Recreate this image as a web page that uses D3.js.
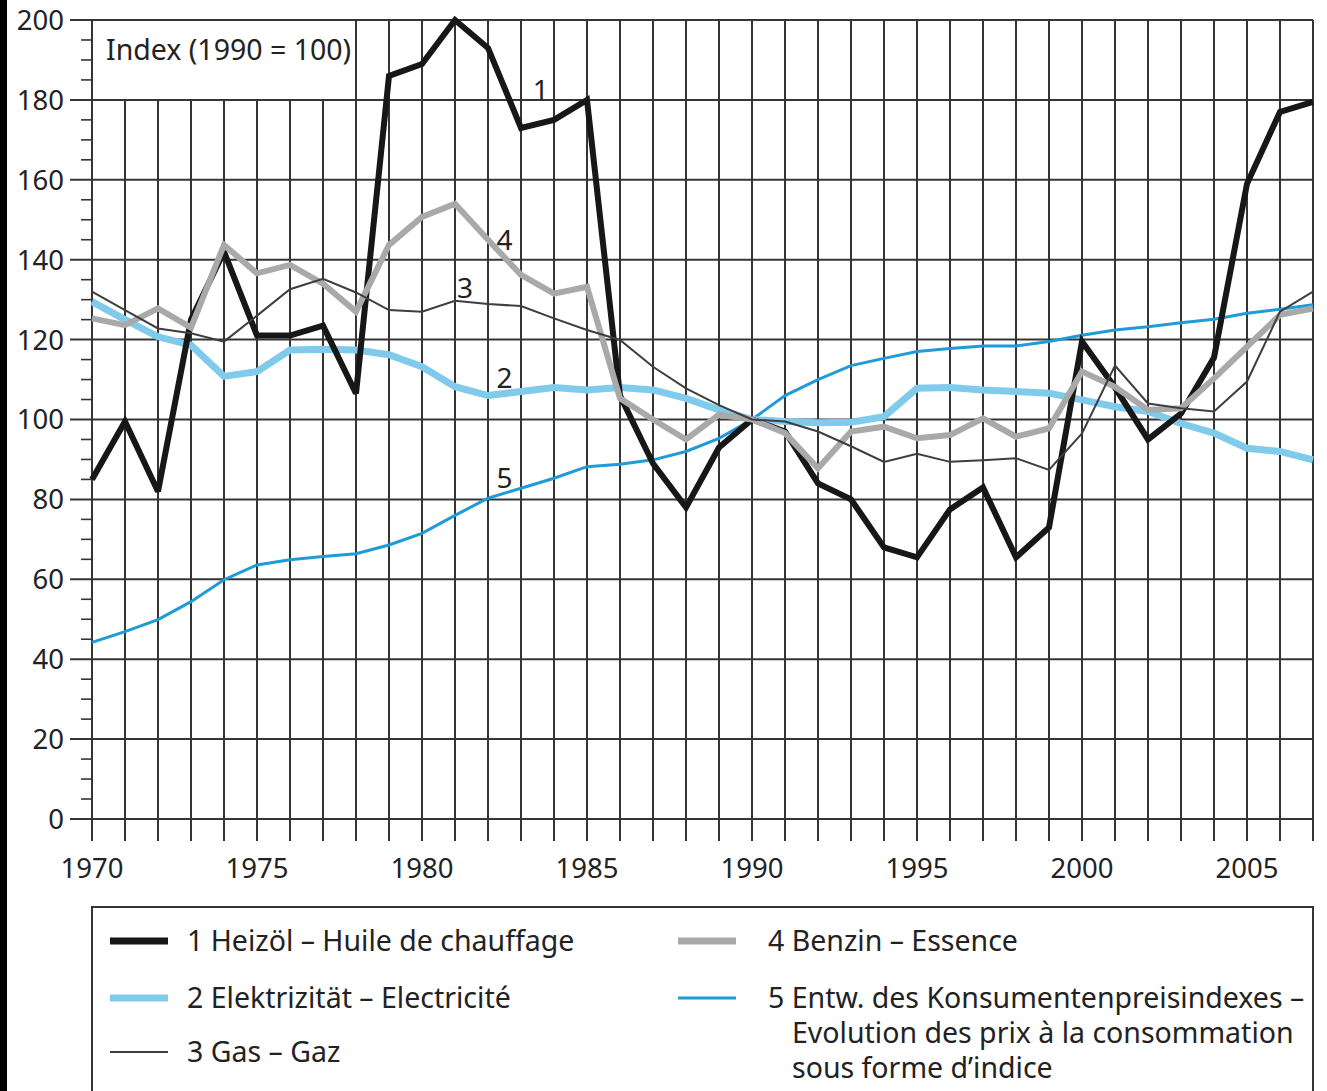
<!DOCTYPE html>
<html>
<head>
<meta charset="utf-8">
<script src="https://cdn.jsdelivr.net/npm/d3@7"></script>
<style>
  html, body { margin: 0; padding: 0; background: #fff; }
  svg { display: block; font-family: "Noto Sans", "Open Sans", sans-serif; }
</style>
</head>
<body>
<svg id="chart" width="1327" height="1091"></svg>
<script>
// ---- data ----
const years = d3.range(1970, 2008);
const heizoel = [85, 99.5, 82, 125, 142, 121, 121, 123.5, 106.5, 186, 189, 200, 193, 173, 175, 180,
  106, 89, 78, 93, 100, 97, 84, 80, 68, 65.5, 77.5, 83, 65.5, 73, 119.5, 108, 95, 101.5, 115.5, 159, 177, 179.5];
const elektrizitaet = [129.5, 125, 120.7, 118.6, 110.8, 112, 117.4, 117.6, 117.4, 116.2, 113.2, 108.2, 106, 107, 108, 107.4,
  108, 107.4, 105.3, 102.4, 100, 99.5, 99.2, 99.3, 100.7, 107.8, 108, 107.4, 107, 106.6, 104.9, 103.2, 102, 99, 96.6, 92.8, 92, 89.9];
const gas = [132, 127.4, 122.8, 121.6, 119.5, 126, 132.6, 135.2, 131.8, 127.4, 127, 129.7, 128.9, 128.4, 125.3, 122.4,
  119.9, 113.2, 107.8, 103.6, 100, 99.5, 97, 93.3, 89.4, 91.4, 89.4, 89.8, 90.3, 87.4, 96.5, 113.5, 104, 102.8, 102, 109.5, 127, 132];
const benzin = [125.3, 123.6, 127.8, 123, 143.7, 136.6, 138.7, 134, 127, 143.7, 150.7, 154, 145, 136.2, 131.5, 133.2,
  105.3, 100, 95, 101.2, 100, 96.6, 87.8, 97, 98.2, 95.3, 96.1, 100.3, 95.7, 97.8, 112, 108.2, 102.4, 102.8, 110.3, 118.2, 126.2, 127.8];
const kpi = [44.2, 46.9, 49.9, 54.4, 59.9, 63.6, 64.9, 65.7, 66.4, 68.6, 71.5, 76, 80.3, 82.8, 85.3, 88.2,
  88.8, 89.9, 92, 95.3, 100, 106, 110, 113.5, 115.3, 117, 117.8, 118.4, 118.4, 119.5, 121.1, 122.4, 123.2, 124.2, 125.1, 126.6, 127.6, 128.7];

const yTickValues = d3.range(0, 201, 20);
const xTickLabels = [1970, 1975, 1980, 1985, 1990, 1995, 2000, 2005];
const indexLabel = "Index (1990 = 100)";

const seriesNames = ["1 Heizöl – Huile de chauffage", "2 Elektrizität – Electricité", "3 Gas – Gaz",
  "4 Benzin – Essence", "5 Entw. des Konsumentenpreisindexes –"];
const series5Extra = ["Evolution des prix à la consommation", "sous forme d’indice"];

// ---- layout ----
const svg = d3.select("#chart");
const x = d3.scaleLinear().domain([1970, 2007]).range([92, 1313]);
const y = d3.scaleLinear().domain([0, 200]).range([819, 20]);
const gridColor = "#353535";
const textColor = "#222";

// left black strip
svg.append("rect").attr("x", 0).attr("y", 0).attr("width", 7).attr("height", 1091).attr("fill", "#000");

// horizontal grid + major ticks
const gGrid = svg.append("g");
gGrid.selectAll("line.h").data(yTickValues).join("line")
  .attr("x1", 70).attr("x2", x(2007))
  .attr("y1", d => y(d)).attr("y2", d => y(d))
  .attr("stroke", gridColor).attr("stroke-width", 2);
// minor ticks
const minor = d3.range(0, 201, 5).filter(v => v % 20 !== 0);
gGrid.selectAll("line.m").data(minor).join("line")
  .attr("x1", 81).attr("x2", x(1970))
  .attr("y1", d => y(d)).attr("y2", d => y(d))
  .attr("stroke", gridColor).attr("stroke-width", 1.6);
// vertical grid
gGrid.selectAll("line.v").data(years).join("line")
  .attr("x1", d => x(d)).attr("x2", d => x(d))
  .attr("y1", y(0) + 22)
  .attr("y2", d => (d > 1970 && d < 1978) ? y(180) : y(200))
  .attr("stroke", gridColor).attr("stroke-width", 2);

// y labels
svg.append("g").selectAll("text").data(yTickValues).join("text")
  .attr("x", 64).attr("y", d => y(d)).attr("dy", "0.36em")
  .attr("text-anchor", "end").attr("font-size", 27.5).attr("fill", textColor)
  .text(d => d);
// x labels
svg.append("g").selectAll("text").data(xTickLabels).join("text")
  .attr("x", d => x(d)).attr("y", 868).attr("dy", "0.36em")
  .attr("text-anchor", "middle").attr("font-size", 27.5).attr("fill", textColor)
  .text(d => d);

// index label
svg.append("text").attr("x", 106).attr("y", 50).attr("dy", "0.36em")
  .attr("font-size", 28.5).attr("fill", textColor).text(indexLabel);

// lines
const line = d3.line().x((d, i) => x(years[i])).y(d => y(d));
const styles = [
  { data: kpi, color: "#1f9bd7", w: 3 },
  { data: elektrizitaet, color: "#80cbec", w: 7 },
  { data: heizoel, color: "#171717", w: 6 },
  { data: benzin, color: "#a9a9a9", w: 6 },
  { data: gas, color: "#3e3e3e", w: 2 },
];
svg.append("g").selectAll("path").data(styles).join("path")
  .attr("d", s => line(s.data))
  .attr("fill", "none").attr("stroke", s => s.color).attr("stroke-width", s => s.w)
  .attr("stroke-linejoin", "miter").attr("stroke-miterlimit", 3);

// series number labels
const numLabels = [
  { t: "1", yr: 1983.6, v: 182.5 },
  { t: "4", yr: 1982.5, v: 145 },
  { t: "3", yr: 1981.3, v: 133 },
  { t: "2", yr: 1982.5, v: 110.5 },
  { t: "5", yr: 1982.5, v: 85.5 },
];
svg.append("g").selectAll("text").data(numLabels).join("text")
  .attr("x", d => x(d.yr)).attr("y", d => y(d.v)).attr("dy", "0.36em")
  .attr("text-anchor", "middle").attr("font-size", 28).attr("fill", textColor)
  .text(d => d.t);

// legend box (bottom edge off-canvas)
svg.append("path")
  .attr("d", `M${x(1970)},1100 V907 H${x(2007)} V1100`)
  .attr("fill", "none").attr("stroke", gridColor).attr("stroke-width", 2);

const legendItems = [
  { name: seriesNames[0], color: "#171717", w: 7, lx: 110, tx: 187, ly: 941 },
  { name: seriesNames[1], color: "#80cbec", w: 7, lx: 110, tx: 187, ly: 998 },
  { name: seriesNames[2], color: "#3e3e3e", w: 2, lx: 110, tx: 187, ly: 1052 },
  { name: seriesNames[3], color: "#a9a9a9", w: 7, lx: 678, tx: 768, ly: 941 },
  { name: seriesNames[4], color: "#1f9bd7", w: 3, lx: 678, tx: 768, ly: 998 },
];
const lg = svg.append("g");
lg.selectAll("line").data(legendItems).join("line")
  .attr("x1", d => d.lx).attr("x2", d => d.lx + 58)
  .attr("y1", d => d.ly).attr("y2", d => d.ly)
  .attr("stroke", d => d.color).attr("stroke-width", d => d.w);
lg.selectAll("text.n").data(legendItems).join("text")
  .attr("x", d => d.tx).attr("y", d => d.ly).attr("dy", "0.36em")
  .attr("font-size", 28.5).attr("fill", textColor).text(d => d.name);
lg.selectAll("text.e").data(series5Extra).join("text")
  .attr("x", 792).attr("y", (d, i) => 1033 + i * 35).attr("dy", "0.36em")
  .attr("font-size", 28.5).attr("fill", textColor).text(d => d);
</script>
</body>
</html>
